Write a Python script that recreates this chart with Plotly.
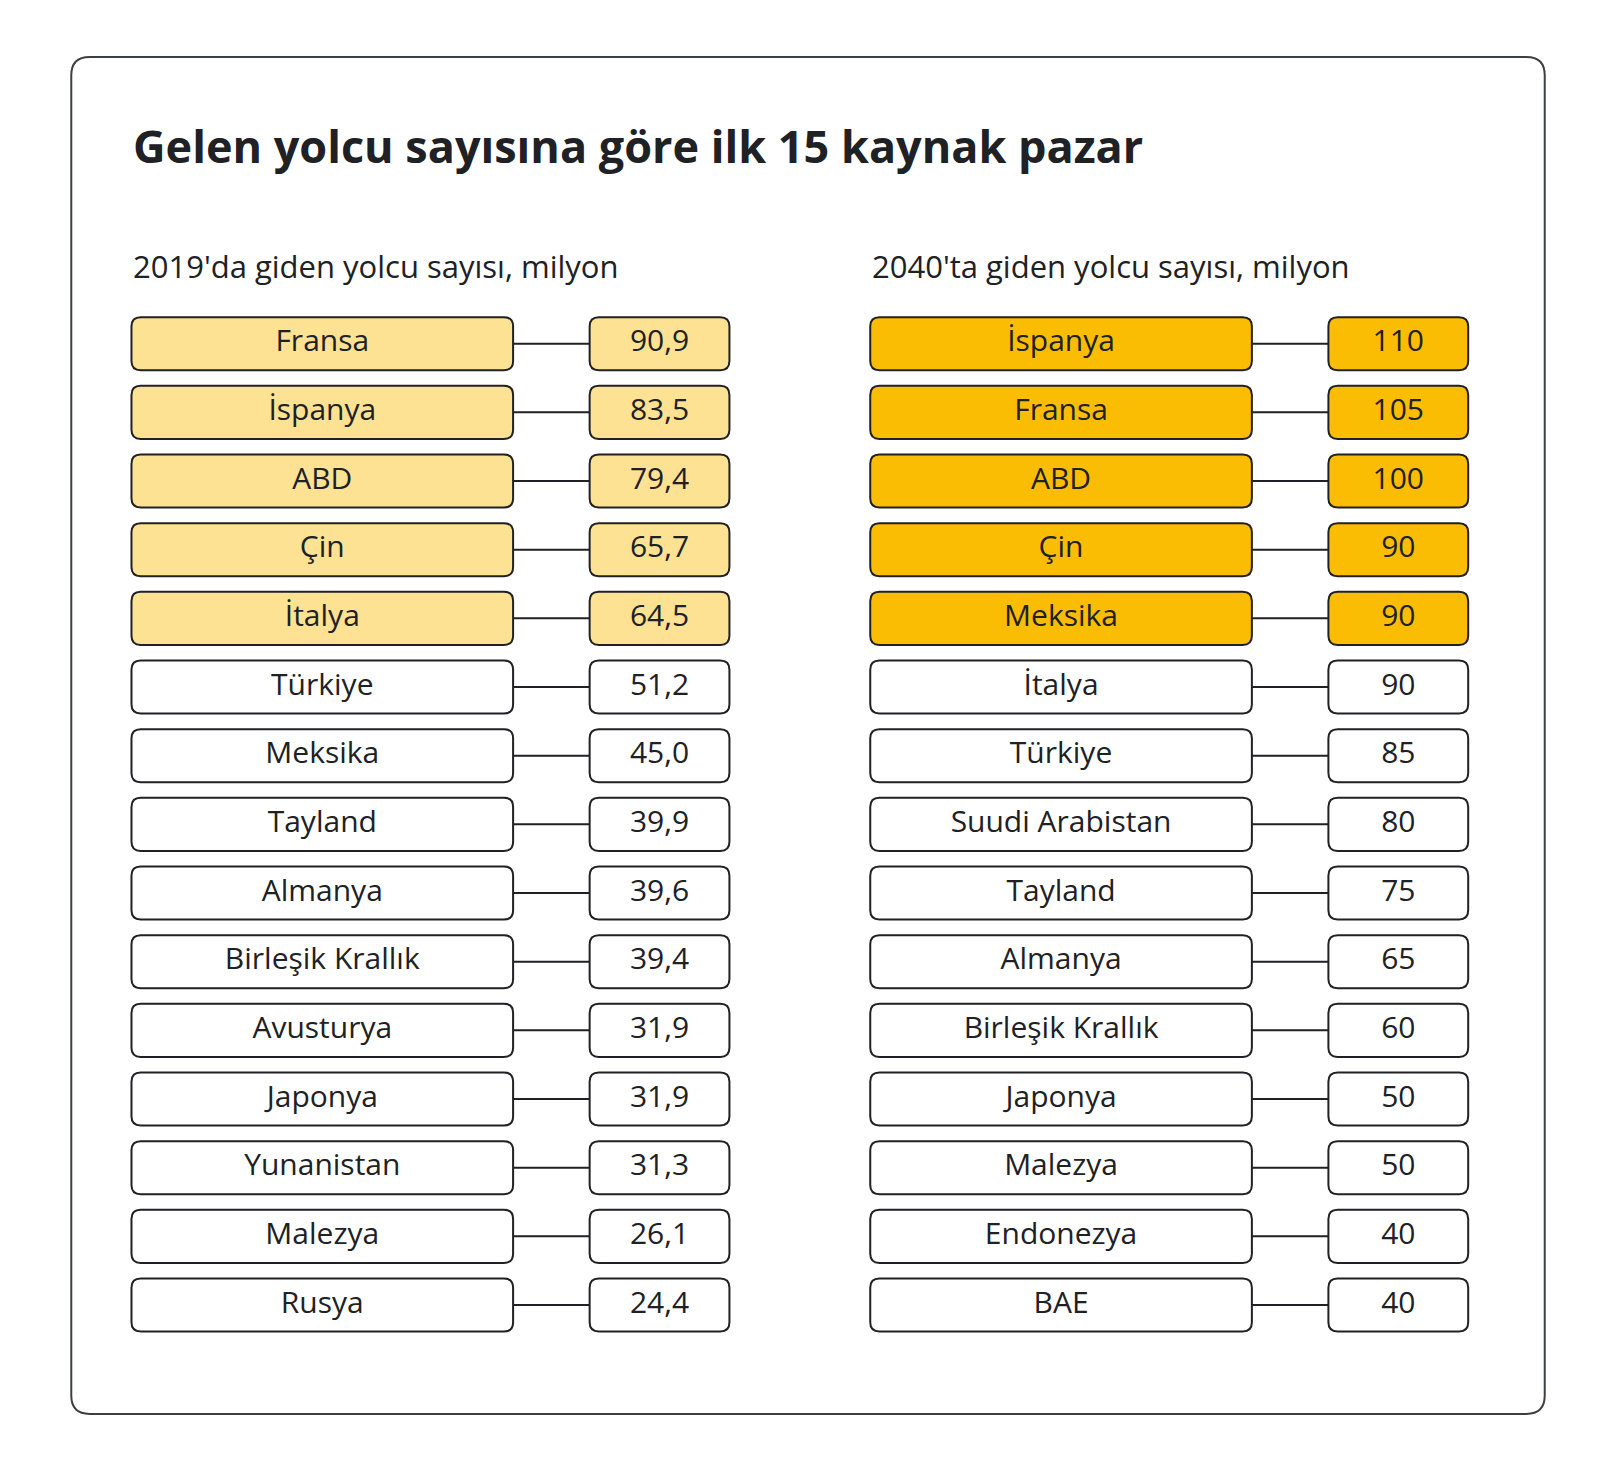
import plotly.graph_objects as go

title = "Gelen yolcu sayısına göre ilk 15 kaynak pazar"
sub_2019 = "2019'da giden yolcu sayısı, milyon"
sub_2040 = "2040'ta giden yolcu sayısı, milyon"
countries_2019 = ["Fransa", "İspanya", "ABD", "Çin", "İtalya", "Türkiye", "Meksika", "Tayland",
                  "Almanya", "Birleşik Krallık", "Avusturya", "Japonya", "Yunanistan", "Malezya", "Rusya"]
values_2019 = ["90,9", "83,5", "79,4", "65,7", "64,5", "51,2", "45,0", "39,9", "39,6", "39,4",
               "31,9", "31,9", "31,3", "26,1", "24,4"]
countries_2040 = ["İspanya", "Fransa", "ABD", "Çin", "Meksika", "İtalya", "Türkiye", "Suudi Arabistan",
                  "Tayland", "Almanya", "Birleşik Krallık", "Japonya", "Malezya", "Endonezya", "BAE"]
values_2040 = ["110", "105", "100", "90", "90", "90", "85", "80", "75", "65", "60", "50", "50", "40", "40"]
highlight_n = 5

W, H = 1568, 1428
FONT = "Open Sans"
INK = "#202124"

def rrect(x0, y0, x1, y1, r):
    return (f"M{x0+r},{y0} L{x1-r},{y0} Q{x1},{y0} {x1},{y0+r} L{x1},{y1-r} Q{x1},{y1} {x1-r},{y1} "
            f"L{x0+r},{y1} Q{x0},{y1} {x0},{y1-r} L{x0},{y0+r} Q{x0},{y0} {x0+r},{y0} Z")

shapes = [dict(type="path", path=rrect(62, 48, 1506, 1378, 18), line=dict(color="#3c4043", width=2),
               fillcolor="white", layer="below")]
fig = go.Figure()

y0, dy, bh = 329, 67.3, 52
panels = [(121, 495, 570, 707, countries_2019, values_2019, "#FDE293"),
          (845, 1219, 1294, 1431, countries_2040, values_2040, "#FBBC04")]
for nx0, nx1, vx0, vx1, names, vals, hc in panels:
    ys = [y0 + i * dy for i in range(len(names))]
    for i, y in enumerate(ys):
        fill = hc if i < highlight_n else "white"
        shapes.append(dict(type="line", x0=nx1, x1=vx0, y0=y, y1=y, line=dict(color=INK, width=2), layer="below"))
        shapes.append(dict(type="path", path=rrect(nx0, y - bh/2, nx1, y + bh/2, 9),
                           line=dict(color=INK, width=2), fillcolor=fill, layer="below"))
        shapes.append(dict(type="path", path=rrect(vx0, y - bh/2, vx1, y + bh/2, 9),
                           line=dict(color=INK, width=2), fillcolor=fill, layer="below"))
    fig.add_trace(go.Scatter(x=[(nx0 + nx1) / 2] * len(names), y=ys, mode="text", text=names,
                             textfont=dict(family=FONT, size=30, color=INK), hoverinfo="skip"))
    fig.add_trace(go.Scatter(x=[(vx0 + vx1) / 2] * len(vals), y=ys, mode="text", text=vals,
                             textfont=dict(family=FONT, size=30, color=INK), hoverinfo="skip"))

ann = [dict(x=121, y=135, text=f"<b>{title}</b>", xanchor="left", yanchor="middle", showarrow=False,
            font=dict(family=FONT, size=45, color=INK)),
       dict(x=121, y=253, text=sub_2019, xanchor="left", yanchor="middle", showarrow=False,
            font=dict(family=FONT, size=31, color=INK)),
       dict(x=845, y=253, text=sub_2040, xanchor="left", yanchor="middle", showarrow=False,
            font=dict(family=FONT, size=31, color=INK))]

fig.update_layout(width=1600, height=1457, margin=dict(l=0, r=0, t=0, b=0), showlegend=False,
                  plot_bgcolor="white", paper_bgcolor="white", shapes=shapes, annotations=ann,
                  xaxis=dict(range=[0, W], visible=False, fixedrange=True),
                  yaxis=dict(range=[H, 0], visible=False, fixedrange=True))
fig.write_html("out.html", config={"displayModeBar": False})
